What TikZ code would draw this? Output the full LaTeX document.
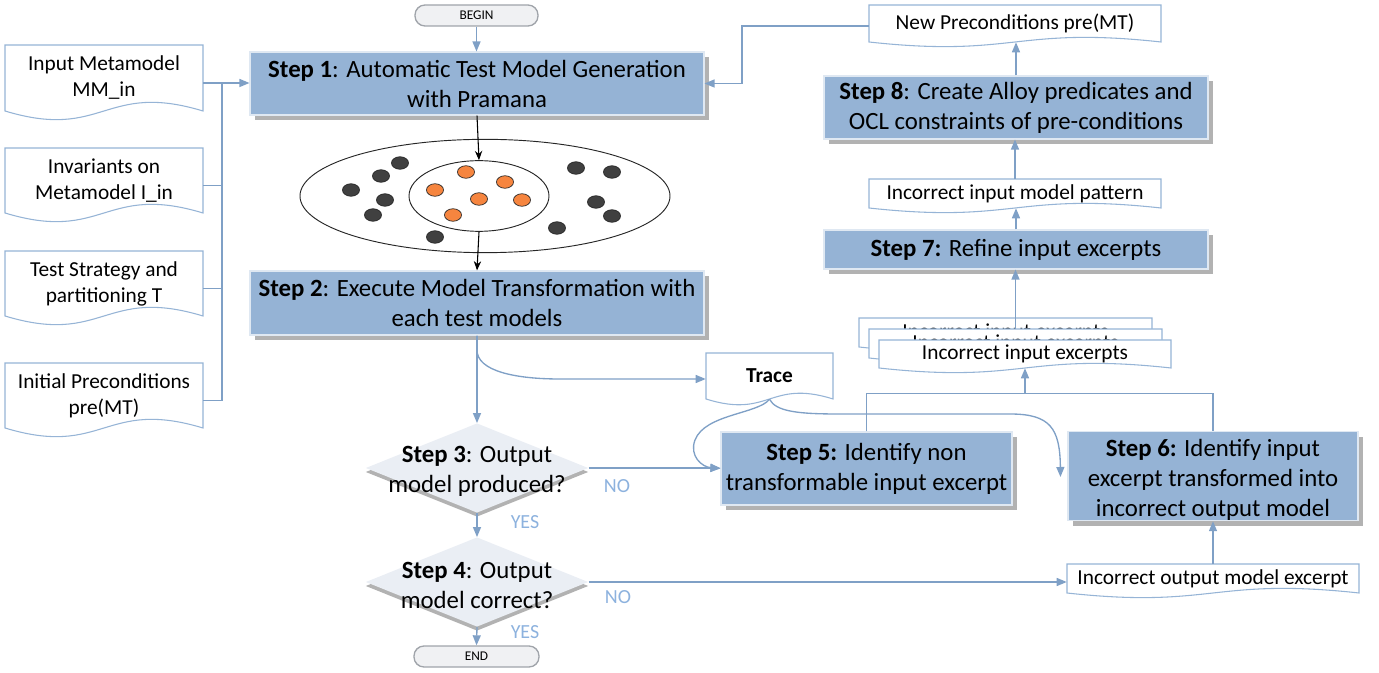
\documentclass[tikz,border=0pt]{standalone}
\usepackage{fontspec}
\setmainfont{Carlito}
\usetikzlibrary{arrows.meta,shapes.geometric,calc,shadows}
\definecolor{cStep}{RGB}{149,179,213}
\definecolor{cLine}{RGB}{127,160,198}
\definecolor{cDoc}{RGB}{150,180,214}
\definecolor{cDia}{RGB}{234,238,244}
\definecolor{cTerm}{RGB}{240,241,243}
\definecolor{cTermLine}{RGB}{160,164,170}
\definecolor{cYes}{RGB}{141,178,222}
\definecolor{cDark}{RGB}{64,64,64}
\definecolor{cOrange}{RGB}{246,133,63}
\newcommand\stepfont{\fontsize{18.6}{22.5}\selectfont}
\newcommand\docfont{\fontsize{16}{19.5}\selectfont}
\newcommand\ynfont{\fontsize{15}{18}\selectfont}
\newcommand\termfont{\fontsize{10}{12}\selectfont}
\tikzset{
  area/.style n args={4}{at={({(#1+#3)/2},{(#2+#4)/2})}, minimum width={(#3-#1)*0.75pt}, minimum height={(#4-#2)*0.75pt}},
  stepbox/.style={rectangle, fill=cStep, draw=white!70!cStep, line width=0.8pt, inner sep=0pt, align=center, font=\stepfont,
    drop shadow={shadow xshift=4pt, shadow yshift=-4pt, fill=black, opacity=0.3}},
  doctext/.style={rectangle, inner sep=0pt, align=center, font=\docfont},
  docline/.style={draw=cDoc, line width=0.8pt, fill=white},
  conn/.style={draw=cLine, line width=1pt},
  arr/.style={-{Triangle[length=7.5pt,width=6pt]}},
  blk/.style={draw=black, line width=0.8pt, -{Stealth[length=7pt,width=5.5pt]}},
  term/.style={rectangle, rounded corners=7.5pt, fill=cTerm, draw=cTermLine, line width=1pt, inner sep=0pt, font=\termfont},
  dia/.style={diamond, fill=cDia, inner sep=0pt, minimum width=167pt, minimum height=67pt,
    drop shadow={shadow xshift=0pt, shadow yshift=-3pt, fill=black, opacity=0.3}},
  dialabel/.style={align=center, font=\stepfont, yshift=-2.5pt},
  yn/.style={text=cYes, font=\ynfont, inner sep=0pt},
  dotd/.style={ellipse, draw=black!85, line width=0.5pt, fill=cDark, minimum width=12.8pt, minimum height=9.4pt, inner sep=0pt},
  doto/.style={ellipse, draw=black!85, line width=0.5pt, fill=cOrange, minimum width=12.8pt, minimum height=9.4pt, inner sep=0pt},
}
% document shape: name, x1, y1, x2, y2 (body), wave, text
\newcommand\docnode[7]{%
  \draw[docline] (#2,#5) -- (#2,#3) -- (#4,#3) -- (#4,#5)
    .. controls ({(#2+#4)/2},{#5-#6}) and ({(#2+#4)/2},{#5+#6}) .. (#2,#5) -- cycle;
  \node[doctext, area={#2}{#3}{#4}{#5}] (#1) {#7};}
\begin{document}
\begin{tikzpicture}[x=0.75pt,y=-0.75pt]
\useasboundingbox (0,0) rectangle (1379,673);

% terminals
\node[term, area={415}{5}{538}{26}] (begin) {BEGIN};
\node[term, area={414}{646}{539}{667}] (end) {END};

% steps
\node[stepbox, area={250}{52}{704}{115}] (s1) {\textbf{Step 1}: Automatic Test Model Generation\\with Pramana};
\node[stepbox, area={250}{271}{704}{335}] (s2) {\textbf{Step 2}: Execute Model Transformation with\\each test models};
\node[stepbox, area={824}{76}{1208}{139}] (s8) {\textbf{Step 8}: Create Alloy predicates and\\OCL constraints of pre-conditions};
\node[stepbox, area={824}{230}{1208}{269}] (s7) {\textbf{Step 7:} Refine input excerpts};
\node[stepbox, area={721}{432}{1012}{505}] (s5) {\textbf{Step 5:} Identify non\\transformable input excerpt};
\node[stepbox, area={1068}{432}{1358}{520}] (s6) {\rule{0pt}{19pt}\textbf{Step 6:} Identify input\\excerpt transformed into\\incorrect output model};

% decisions
\node[dia, label={[dialabel]center:{\textbf{Step 3}: Output\\model produced?}}] (d3) at (477,468) {};
\node[dia, label={[dialabel]center:{\textbf{Step 4}: Output\\model correct?}}] (d4) at (477,582) {};

% documents
\docnode{doc1}{5}{45}{203}{111}{30}{Input Metamodel\\MM\_in}
\docnode{doc2}{5}{148}{203}{213}{30}{Invariants on\\Metamodel I\_in}
\docnode{doc3}{5}{251}{203}{316}{30}{Test Strategy and\\partitioning T}
\docnode{doc4}{5}{363}{203}{428}{30}{Initial Preconditions\\pre(MT)}
\docnode{newpre}{869}{5}{1161}{42}{16}{New Preconditions pre(MT)}
\docnode{pattern}{869}{179}{1161}{208}{16}{Incorrect input model pattern}
\docnode{exc3}{859}{318}{1152}{347}{16}{Incorrect input excerpts}
\docnode{exc2}{869}{329}{1162}{358}{16}{Incorrect input excerpts}
\docnode{exc1}{879}{340}{1171}{368}{16}{Incorrect input excerpts}
\docnode{trace}{706}{353}{833}{399}{20}{\textbf{Trace}}
\docnode{outexc}{1067}{564}{1359}{593}{16}{Incorrect output model excerpt}

% model space
\node[ellipse, draw=black!85, line width=0.7pt, minimum width=277.5pt, minimum height=85pt, inner sep=0pt] (ell) at (485,196) {};
\node[ellipse, draw=black!85, line width=0.7pt, minimum width=105pt, minimum height=53pt, inner sep=0pt] (inn) at (479,196) {};
\foreach \p [count=\i] in {(400,163),(381,176),(351,190),(385,200),(373,215),(435,237),(576,168),(612,172),(596,202),(612,216),(557,228)}
  \node[dotd] (dk\i) at \p {};
\foreach \p [count=\i] in {(466,172),(505,182),(435,190),(479,199),(522,200),(453,215)}
  \node[doto] (or\i) at \p {};

% connectors
\draw[conn,arr] (begin.south) -- (begin.south |- s1.north);
\coordinate (busA) at (222,83);
\foreach \d in {doc1,doc2,doc3,doc4}
  \draw[conn] ($(\d.east)+(0,5)$) -| (busA);
\draw[conn,arr] (busA) -- (busA -| s1.west);
\draw[blk] (s1.south) -- (inn.north);
\draw[blk] (inn.south) -- (s2.north);
\coordinate (cA) at (742,83.5);
\draw[conn,arr] ($(newpre.west)+(0,2.5)$) -| (cA) -- (cA -| s1.east);
\draw[conn,arr] (s8.north) -- (s8.north |- newpre.south);
\draw[conn,arr] (pattern.north) -- (pattern.north |- s8.south);
\draw[conn,arr] (s7.north) -- (s7.north |- pattern.south);
\draw[conn,arr] (exc2.north) -- (exc2.north |- s7.south);
\coordinate (junc) at ($(exc1.south)+(0,25)$);
\draw[conn] (s5.north) |- (junc);
\draw[conn] (s6.north) |- (junc);
\draw[conn,arr] (junc) -- (exc1.south);
\draw[conn,arr] (s2.south) -- (477,350) .. controls (477,371) and (515,379) .. (560,379) -- ($(trace.west)+(0,3)$);
\draw[conn,arr] (s2.south) -- (d3.north);
\draw[conn,arr] (d3.south) -- (d4.north);
\draw[conn,arr] (d4.south) -- (end.north);
\draw[conn,arr] (d3.east) -- (d3.east -| s5.west);
\draw[conn,arr] (d4.east) -- (d4.east -| outexc.west);
\draw[conn,arr] (outexc.north) -- (outexc.north |- s6.south);
\draw[conn,arr] (trace.south) .. controls (758,414) and (705,414) .. (695,440) .. controls (689,456) and (702,467) .. (s5.west);
\draw[conn,arr] (trace.south) .. controls (776,412) and (800,414) .. (840,414) -- (1010,414) .. controls (1050,414) and (1060,428) .. ($(s6.west)+(-7,1)$);

% yes / no
\node[yn] (no3) at (617,486) {NO};
\node[yn] (yes3) at (525,522) {YES};
\node[yn] (no4) at (618,597) {NO};
\node[yn] (yes4) at (525,632) {YES};
\end{tikzpicture}
\end{document}
